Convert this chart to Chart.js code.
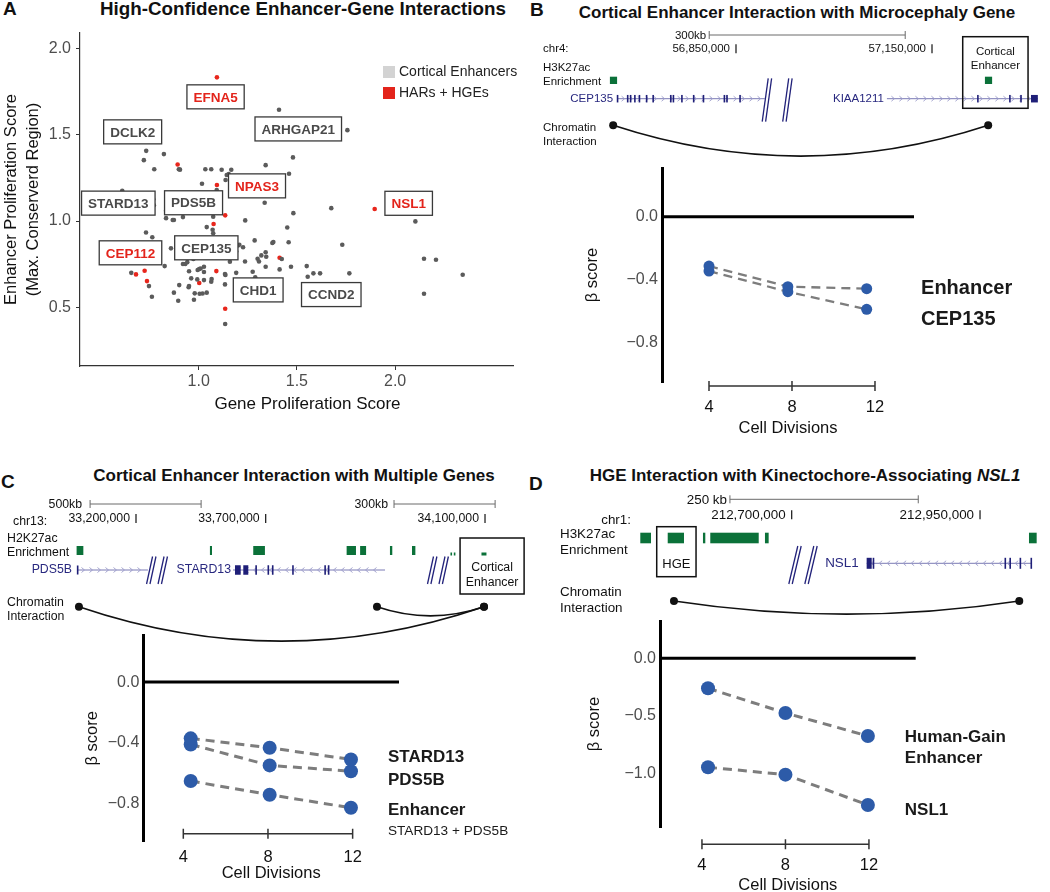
<!DOCTYPE html>
<html>
<head>
<meta charset="utf-8">
<script src="https://cdn.jsdelivr.net/npm/chart.js@4.4.1/dist/chart.umd.min.js"></script>
<style>
  html, body { margin: 0; padding: 0; background: #fff; overflow: hidden; }
  body { width: 1050px; height: 892px; position: relative; font-family: "Liberation Sans", Arial, sans-serif; color: #111; }
  canvas { position: absolute; }
  .letter { position: absolute; font-weight: bold; font-size: 19px; line-height: 19px; }
  .title { position: absolute; font-weight: bold; font-size: 17px; line-height: 17px; transform: translateX(-50%); white-space: nowrap; }
</style>
</head>
<body>
<div class="letter" style="left:3px;top:-1px">A</div>
<div class="title" style="left:303px;top:0px;font-size:18.8px;line-height:18.8px">High-Confidence Enhancer-Gene Interactions</div>
<div class="letter" style="left:530px;top:0px">B</div>
<div class="title" style="left:797px;top:4px">Cortical Enhancer Interaction with Microcephaly Gene</div>
<div class="letter" style="left:1px;top:472px">C</div>
<div class="title" style="left:294px;top:467px">Cortical Enhancer Interaction with Multiple Genes</div>
<div class="letter" style="left:529px;top:474px">D</div>
<div class="title" style="left:805px;top:467px">HGE Interaction with Kinectochore-Associating <i>NSL1</i></div>

<canvas id="chartA" width="520" height="420" style="left:0;top:0"></canvas>
<canvas id="trackB" width="530" height="135" style="left:520px;top:25px"></canvas>
<canvas id="chartB" width="530" height="280" style="left:520px;top:160px"></canvas>
<canvas id="trackC" width="530" height="155" style="left:0;top:490px"></canvas>
<canvas id="chartC" width="520" height="267" style="left:0;top:625px"></canvas>
<canvas id="trackD" width="530" height="135" style="left:520px;top:485px"></canvas>
<canvas id="chartD" width="530" height="290" style="left:520px;top:612px"></canvas>

<script>
// ---------- Panel A: enhancer / gene proliferation scores ----------
const corticalGeneScore = [1.409, 1.757, 0.733, 0.823, 0.721, 0.774, 0.899, 0.905, 1.034, 1.064, 1.117, 1.166,
  1.341, 1.480, 1.460, 1.143, 1.153, 1.137, 1.017, 1.092, 0.611, 0.769, 0.772, 1.336, 1.675, 1.482, 0.834,
  0.834, 0.868, 0.874, 0.920, 1.074, 1.103, 1.237, 2.103, 1.041, 1.071, 1.074, 1.451, 0.732, 0.764, 1.458,
  1.285, 1.375, 1.380, 1.731, 0.859, 1.200, 1.226, 1.207, 1.191, 1.341, 1.319, 1.300, 1.344, 1.423, 2.147,
  2.208, 0.827, 0.920, 0.932, 0.942, 0.973, 1.025, 0.951, 1.003, 1.010, 1.027, 0.995, 1.027, 1.159, 1.236,
  1.307, 1.341, 1.412, 1.470, 1.550, 0.657, 1.134, 1.136, 1.191, 1.275, 1.288, 1.555, 1.584, 1.618, 1.767,
  2.344, 0.962, 0.993, 1.027, 1.064, 1.066, 0.747, 0.901, 0.949, 0.951, 1.134, 0.874, 0.980, 1.005, 1.020,
  1.041, 0.762, 0.976, 0.896, 2.147, 1.135, 1.186];
const corticalEnhancerScore = [1.645, 1.527, 1.407, 1.388, 1.353, 1.300, 1.300, 1.298, 1.300, 1.300, 1.297, 1.297,
  1.324, 1.369, 1.274, 1.267, 1.272, 1.238, 1.216, 1.180, 1.176, 1.127, 1.091, 1.106, 1.075, 1.046, 1.060,
  1.017, 1.006, 1.006, 1.023, 1.025, 1.054, 1.004, 0.998, 0.965, 0.950, 0.929, 0.963, 0.934, 0.906, 0.877,
  0.888, 0.873, 0.878, 0.863, 0.842, 0.859, 0.848, 0.863, 0.824, 0.819, 0.801, 0.782, 0.793, 0.780, 0.782,
  0.776, 0.739, 0.751, 0.751, 0.762, 0.780, 0.813, 0.709, 0.722, 0.725, 0.735, 0.716, 0.705, 0.764, 0.766,
  0.766, 0.735, 0.720, 0.735, 0.739, 0.700, 0.693, 0.688, 0.700, 0.706, 0.674, 0.677, 0.697, 0.697, 0.697,
  0.689, 0.668, 0.662, 0.658, 0.648, 0.664, 0.623, 0.629, 0.616, 0.623, 0.633, 0.585, 0.581, 0.579, 0.580,
  0.585, 0.561, 0.544, 0.538, 0.579, 0.403, 0.813];
const harGeneScore = [0.893, 1.093, 1.093, 1.135, 1.076, 1.896, 1.412, 1.090, 1.003, 1.135, 0.681, 0.725, 0.737];
const harEnhancerScore = [1.328, 1.833, 1.209, 1.033, 0.983, 1.070, 0.787, 0.710, 0.641, 0.492, 0.691, 0.712, 0.652];
const geneLabels = ['EFNA5', 'DCLK2', 'ARHGAP21', 'NPAS3', 'STARD13', 'PDS5B', 'NSL1', 'CEP112', 'CEP135', 'CHD1', 'CCND2'];
const geneLabelX = [1.086, 0.664, 1.507, 1.297, 0.591, 0.974, 2.069, 0.653, 1.039, 1.303, 1.675];
const geneLabelY = [1.720, 1.517, 1.534, 1.204, 1.104, 1.106, 1.103, 0.816, 0.845, 0.601, 0.574];
const geneLabelHar = [true, false, false, true, false, false, true, true, false, false, false];
const xTicksA = [1.0, 1.5, 2.0];
const yTicksA = [0.5, 1.0, 1.5, 2.0];

// ---------- Panel B: CEP135 locus (kb) ----------
const scaleBarB = [56809, 57109];
const coordTicksB = [56850, 57150];
const peaksB = [[56657, 56668], [57231, 57242]];
const cep135Span = [56668, 56894];
const cep135Exons = [[56667.5, 56669], [56683, 56684.5], [56687.5, 56689], [56694, 56695.5], [56701, 56702.5],
  [56712, 56713.5], [56722, 56723.5], [56749, 56750.5], [56753, 56754.5], [56766, 56767.5], [56784, 56785.5],
  [56799, 56800.5], [56831, 56832.5], [56835, 56836.5], [56855, 56856.5]];
const kiaa1211Span = [57081, 57312];
const kiaa1211Exons = [[57219, 57220.5], [57268, 57269.5], [57285, 57286.5], [57301.5, 57312]];
const breaksB = [56913];
const enhancerBoxB = [57197, 57297];
const loopsB = [[56662, 57236]];

// ---------- Panel C: PDS5B / STARD13 locus (kb) ----------
const scaleBarC = [33023, 33451];
const scaleBarCRight = [33830, 34130];
const coordTicksC = [33200, 33700];
const coordTicksCRight = [34100];
const peaksC = [[32971, 32997], [33485, 33493], [33652, 33697], [34012, 34048], [34064, 34087], [34179, 34188], [34264, 34277]];
const peaksCRight = [[33997.5, 34001.5], [34007.4, 34011.3], [34089.5, 34104.3]];
const pds5bSpan = [32972.5, 33246];
const pds5bExons = [[32972, 32974]];
const stard13Span = [33574, 34160];
const stard13Exons = [[33581.6, 33603.6], [33613.6, 33632.9], [33660, 33662], [33707, 33709], [33724, 33727],
  [33802, 33804], [33926, 33928], [33939.5, 33941.5]];
const breaksC = [33281, 34364];
const enhancerBoxC = [34026, 34216];
const loopStartC = [32980, 34129];
const loopEndC = [34097, 34097];

// ---------- Panel D: NSL1 locus (kb) ----------
const scaleBarD = [212618, 212868];
const coordTicksD = [212700, 212950];
const peaksD = [[212499, 212513.2], [212535.4, 212557], [212582.2, 212585.3], [212591.9, 212656.2], [212664.5, 212669.4], [213015, 213025.2]];
const nsl1Span = [212799.5, 213019];
const nsl1Exons = [[212799.5, 212806.2], [212807.5, 212809.5], [212982.5, 212984.5], [212989, 212991], [213002.5, 213004.5], [213017, 213019]];
const breaksD = [212715];
const hgeBoxD = [212520.8, 212573];
const loopsD = [[212543.7, 213002.1]];

// ---------- Panels B-D: beta scores over cell divisions ----------
const cellDivisionTicks = [4, 8, 12];
const divisionsB = [4, 7.8, 11.6];
const enhancerBetaB = [-0.313, -0.444, -0.457];
const cep135BetaB = [-0.345, -0.476, -0.588];
const seriesNamesB = ['Enhancer', 'CEP135'];
const seriesLabelYB = [-0.455, -0.651];
const betaTicksB = [0, -0.4, -0.8];

const divisionsC = [4.35, 8.08, 11.92];
const stard13BetaC = [-0.370, -0.432, -0.509];
const pds5bBetaC = [-0.410, -0.548, -0.586];
const enhancerBetaC = [-0.651, -0.741, -0.827];
const seriesNamesC = ['STARD13', 'PDS5B', 'Enhancer', 'STARD13 + PDS5B'];
const seriesLabelYC = [-0.498, -0.645, -0.842, -0.978];
const betaTicksC = [0, -0.4, -0.8];

const divisionsD = [4.29, 8.0, 11.95];
const hgeBetaD = [-0.261, -0.476, -0.676];
const nsl1BetaD = [-0.948, -1.012, -1.276];
const seriesNamesD = ['Human-Gain', 'Enhancer', 'NSL1'];
const seriesLabelYD = [-0.690, -0.868, -1.319];
const betaTicksD = [0, -0.5, -1.0];

const FONT = '"Liberation Sans", Arial, Helvetica, sans-serif';
Chart.defaults.font.family = FONT;
Chart.defaults.color = '#111';

// ---------- drawing helpers ----------
function text(ctx, str, x, y, size, o = {}) {
  ctx.font = `${o.style || 'normal'} ${o.weight || 'normal'} ${size}px ${FONT}`;
  ctx.fillStyle = o.color || '#111';
  ctx.textAlign = o.align || 'left';
  ctx.textBaseline = 'middle';
  ctx.fillText(str, x, y);
}

function fmtCoord(kb) {
  return String(Math.round(kb * 1000)).replace(/\B(?=(\d{3})+(?!\d))/g, ',');
}

function scaleBar(ctx, x0, x1, y, label, size, gap) {
  ctx.strokeStyle = '#6b6b6b';
  ctx.lineWidth = 1;
  ctx.beginPath();
  ctx.moveTo(x0, y); ctx.lineTo(x1, y);
  ctx.moveTo(x0, y - 4); ctx.lineTo(x0, y + 4);
  ctx.moveTo(x1, y - 4); ctx.lineTo(x1, y + 4);
  ctx.stroke();
  text(ctx, label, x0 - gap, y + 1, size, {align: 'right'});
}

function coordTick(ctx, x, y, kb, size) {
  text(ctx, fmtCoord(kb), x - 6, y, size, {align: 'right'});
  ctx.strokeStyle = '#111';
  ctx.lineWidth = 1.2;
  ctx.beginPath();
  ctx.moveTo(x, y - 5); ctx.lineTo(x, y + 4);
  ctx.stroke();
}

function drawPeaks(ctx, scale, peaks, top, h) {
  ctx.fillStyle = '#0b7139';
  peaks.forEach(([s, e]) => {
    const a = scale.getPixelForValue(s), b = scale.getPixelForValue(e);
    ctx.fillRect(a, top, Math.max(b - a, 1.6), h);
  });
}

function drawGene(ctx, scale, span, exons, strand, name, yc, exonH, size, gap) {
  const x0 = scale.getPixelForValue(span[0]), x1 = scale.getPixelForValue(span[1]);
  ctx.strokeStyle = '#7b7bb5';
  ctx.lineWidth = 1;
  ctx.beginPath(); ctx.moveTo(x0, yc); ctx.lineTo(x1, yc); ctx.stroke();
  ctx.strokeStyle = '#9d9dcb';
  ctx.lineWidth = 0.9;
  for (let px = x0 + 6; px < x1 - 4; px += 8) {
    ctx.beginPath();
    ctx.moveTo(px - 1.5 * strand, yc - 2.5);
    ctx.lineTo(px + 1.5 * strand, yc);
    ctx.lineTo(px - 1.5 * strand, yc + 2.5);
    ctx.stroke();
  }
  ctx.fillStyle = '#1f1f78';
  exons.forEach(([s, e]) => {
    const a = scale.getPixelForValue(s), b = scale.getPixelForValue(e);
    ctx.fillRect(a, yc - exonH / 2, Math.max(b - a, 1.6), exonH);
  });
  text(ctx, name, x0 - gap, yc, size, {align: 'right', color: '#28287f'});
}

function drawBreak(ctx, xc, y0, y1, gap, slant) {
  ctx.strokeStyle = '#22227a';
  ctx.lineWidth = 1.3;
  [-gap / 2, gap / 2].forEach(dx => {
    [-1.7, 1.7].forEach(off => {
      ctx.beginPath();
      ctx.moveTo(xc + dx + off + slant / 2, y0);
      ctx.lineTo(xc + dx + off - slant / 2, y1);
      ctx.stroke();
    });
  });
}

function drawBox(ctx, x0, x1, y0, y1) {
  ctx.strokeStyle = '#111';
  ctx.lineWidth = 1.5;
  ctx.strokeRect(x0, y0, x1 - x0, y1 - y0);
}

function drawLoop(ctx, xa, xb, y, sagRatio) {
  const sag = Math.abs(xb - xa) * sagRatio;
  ctx.strokeStyle = '#111';
  ctx.lineWidth = 1.7;
  ctx.beginPath();
  ctx.moveTo(xa, y);
  ctx.quadraticCurveTo((xa + xb) / 2, y + 2 * sag, xb, y);
  ctx.stroke();
  ctx.fillStyle = '#111';
  [xa, xb].forEach(px => {
    ctx.beginPath(); ctx.arc(px, y, 4, 0, Math.PI * 2); ctx.fill();
  });
}

// ---------- Panel A ----------
const labelBoxes = {
  id: 'labelBoxes',
  afterDatasetsDraw(chart) {
    const {ctx, scales: {x, y}} = chart;
    ctx.save();
    ctx.font = `bold 13.5px ${FONT}`;
    geneLabels.forEach((name, i) => {
      const cx = x.getPixelForValue(geneLabelX[i]);
      const cy = y.getPixelForValue(geneLabelY[i]);
      const w = ctx.measureText(name).width + 13;
      const h = 24;
      ctx.fillStyle = '#fff';
      ctx.fillRect(cx - w / 2, cy - h / 2, w, h);
      ctx.strokeStyle = '#3a3a3a';
      ctx.lineWidth = 1.3;
      ctx.strokeRect(cx - w / 2, cy - h / 2, w, h);
      text(ctx, name, cx, cy + 1, 13.5, {align: 'center', weight: 'bold', color: geneLabelHar[i] ? '#e3241b' : '#4a4a4a'});
    });
    ctx.restore();
  }
};

// legend squares + x axis title (title sits a little right of the panel centre in the original)
const squareLegend = {
  id: 'squareLegend',
  afterDraw(chart) {
    const {ctx, chartArea} = chart;
    ctx.save();
    chart.data.datasets.forEach((ds, i) => {
      const x0 = chartArea.right - 130, y0 = chartArea.top + 33 + i * 21;
      ctx.fillStyle = ds.legendColor;
      ctx.fillRect(x0, y0, 12, 12);
      text(ctx, ds.label, x0 + 16, y0 + 6.5, 14, {color: '#222'});
    });
    text(ctx, 'Gene Proliferation Score', (chartArea.left + chartArea.right) / 2 + 11, chartArea.bottom + 38, 17,
         {align: 'center', color: '#111'});
    ctx.restore();
  }
};

new Chart(document.getElementById('chartA'), {
  type: 'scatter',
  data: {
    datasets: [
      {label: 'Cortical Enhancers', legendColor: '#d3d3d3',
       data: corticalGeneScore.map((v, i) => ({x: v, y: corticalEnhancerScore[i]})),
       pointRadius: 2.3, backgroundColor: '#5b5b5b', borderWidth: 0},
      {label: 'HARs + HGEs', legendColor: '#e3241b',
       data: harGeneScore.map((v, i) => ({x: v, y: harEnhancerScore[i]})),
       pointRadius: 2.3, backgroundColor: '#e8261c', borderWidth: 0}
    ]
  },
  options: {
    responsive: false, animation: false, devicePixelRatio: 1, events: [],
    layout: {padding: {top: 33, right: 7, left: 0, bottom: 0}},
    plugins: {legend: {display: false}, tooltip: {enabled: false}},
    scales: {
      x: {
        type: 'linear', min: 0.396, max: 2.60,
        afterBuildTicks: s => { s.ticks = xTicksA.map(v => ({value: v})); },
        afterFit: s => { s.height = 54; s.paddingLeft = 0; s.paddingRight = 0; },
        grid: {drawOnChartArea: false, drawTicks: true, tickLength: 4, color: '#333'},
        border: {color: '#333', width: 1.2},
        ticks: {color: '#4d4d4d', font: {size: 16}, padding: 2, callback: v => v.toFixed(1)},
        title: {display: false}
      },
      y: {
        type: 'linear', min: 0.16, max: 2.09,
        afterBuildTicks: s => { s.ticks = yTicksA.map(v => ({value: v})); },
        afterFit: s => { s.width = 80; s.paddingTop = 0; s.paddingBottom = 0; },
        grid: {drawOnChartArea: false, drawTicks: true, tickLength: 4, color: '#333'},
        border: {color: '#333', width: 1.2},
        ticks: {color: '#4d4d4d', font: {size: 16}, padding: 5, callback: v => v.toFixed(1)},
        title: {display: true, text: ['Enhancer Proliferation Score', '(Max. Conserverd Region)'], color: '#111',
                font: {size: 16.5, lineHeight: 1.35}, padding: {top: 0, bottom: 0}}
      }
    }
  },
  plugins: [labelBoxes, squareLegend]
});

// ---------- genome tracks ----------
function trackOptions(xScales) {
  return {
    responsive: false, animation: false, devicePixelRatio: 1, events: [],
    layout: {padding: 0},
    plugins: {legend: {display: false}, tooltip: {enabled: false}},
    scales: Object.assign({y: {display: false, min: 0, max: 1}}, xScales)
  };
}

const trackBPlugin = {
  id: 'trackB',
  afterDraw(chart) {
    const ctx = chart.ctx, x = chart.scales.x, px = v => x.getPixelForValue(v), fs = 11.5;
    ctx.save();
    scaleBar(ctx, px(scaleBarB[0]), px(scaleBarB[1]), 10, '300kb', fs, 3);
    coordTicksB.forEach(v => coordTick(ctx, px(v), 24.3, v, fs));
    text(ctx, 'chr4:', 23, 24.3, fs);
    text(ctx, 'H3K27ac', 23, 43.3, fs);
    text(ctx, 'Enrichment', 23, 56.7, fs);
    drawPeaks(ctx, x, peaksB, 51.7, 7.3);
    drawGene(ctx, x, cep135Span, cep135Exons, 1, 'CEP135', 73.7, 7.5, fs, 4);
    drawGene(ctx, x, kiaa1211Span, kiaa1211Exons, 1, 'KIAA1211', 73.7, 7.5, fs, 3);
    breaksB.forEach(v => drawBreak(ctx, px(v), 53.3, 96.7, 20.5, 6));
    drawBox(ctx, px(enhancerBoxB[0]), px(enhancerBoxB[1]), 11.7, 83.3);
    const bc = (px(enhancerBoxB[0]) + px(enhancerBoxB[1])) / 2;
    text(ctx, 'Cortical', bc, 27.3, fs, {align: 'center'});
    text(ctx, 'Enhancer', bc, 40.7, fs, {align: 'center'});
    text(ctx, 'Chromatin', 23, 102.7, fs);
    text(ctx, 'Interaction', 23, 116.7, fs);
    loopsB.forEach(([a, b]) => drawLoop(ctx, px(a), px(b), 100.3, 0.082));
    ctx.restore();
  }
};

new Chart(document.getElementById('trackB'), {
  type: 'scatter', data: {datasets: []},
  options: trackOptions({x: {type: 'linear', display: false, min: 56519.4, max: 57330.6}}),
  plugins: [trackBPlugin]
});

const trackCPlugin = {
  id: 'trackC',
  afterDraw(chart) {
    const ctx = chart.ctx, x = chart.scales.x, xr = chart.scales.xr, fs = 12.3;
    const pl = v => x.getPixelForValue(v), pr = v => xr.getPixelForValue(v);
    ctx.save();
    scaleBar(ctx, pl(scaleBarC[0]), pl(scaleBarC[1]), 14, '500kb', fs, 8);
    scaleBar(ctx, pr(scaleBarCRight[0]), pr(scaleBarCRight[1]), 14, '300kb', fs, 6);
    coordTicksC.forEach(v => coordTick(ctx, pl(v), 29, v, fs));
    coordTicksCRight.forEach(v => coordTick(ctx, pr(v), 29, v, fs));
    text(ctx, 'chr13:', 13, 32, fs);
    text(ctx, 'H2K27ac', 7, 48.7, fs);
    text(ctx, 'Enrichment', 7, 62.7, fs);
    drawPeaks(ctx, x, peaksC, 56, 9);
    drawPeaks(ctx, xr, peaksCRight, 62.5, 3);
    drawGene(ctx, x, pds5bSpan, pds5bExons, 1, 'PDS5B', 80, 9, fs, 5);
    drawGene(ctx, x, stard13Span, stard13Exons, -1, 'STARD13', 80, 9.5, fs, 2);
    breaksC.forEach(v => drawBreak(ctx, pl(v), 66.5, 94, 11.5, 6));
    drawBox(ctx, pr(enhancerBoxC[0]), pr(enhancerBoxC[1]), 48, 104);
    const bc = (pr(enhancerBoxC[0]) + pr(enhancerBoxC[1])) / 2;
    text(ctx, 'Cortical', bc, 78, fs, {align: 'center'});
    text(ctx, 'Enhancer', bc, 93, fs, {align: 'center'});
    text(ctx, 'Chromatin', 7, 112.7, fs);
    text(ctx, 'Interaction', 7, 126.7, fs);
    loopStartC.forEach((a, i) => drawLoop(ctx, pl(a), pr(loopEndC[i]), 116.7, 0.085));
    ctx.restore();
  }
};

new Chart(document.getElementById('trackC'), {
  type: 'scatter', data: {datasets: []},
  options: trackOptions({
    x: {type: 'linear', display: false, position: 'bottom', min: 32675.7, max: 34718.9},
    xr: {type: 'linear', display: false, position: 'bottom', min: 32660.8, max: 34233.5}
  }),
  plugins: [trackCPlugin]
});

const trackDPlugin = {
  id: 'trackD',
  afterDraw(chart) {
    const ctx = chart.ctx, x = chart.scales.x, px = v => x.getPixelForValue(v), fs = 13.4;
    ctx.save();
    scaleBar(ctx, px(scaleBarD[0]), px(scaleBarD[1]), 14.3, '250 kb', fs, 3);
    coordTicksD.forEach(v => coordTick(ctx, px(v), 30.3, v, fs));
    text(ctx, 'chr1:', 111, 35, fs, {align: 'right'});
    text(ctx, 'H3K27ac', 40, 49.3, fs);
    text(ctx, 'Enrichment', 40, 65, fs);
    drawPeaks(ctx, x, peaksD, 47.7, 10.6);
    drawBox(ctx, px(hgeBoxD[0]), px(hgeBoxD[1]), 41.7, 91.7);
    text(ctx, 'HGE', (px(hgeBoxD[0]) + px(hgeBoxD[1])) / 2, 79, 13, {align: 'center'});
    breaksD.forEach(v => drawBreak(ctx, px(v), 61, 99, 16, 9));
    drawGene(ctx, x, nsl1Span, nsl1Exons, -1, 'NSL1', 78.3, 11, fs, 8);
    text(ctx, 'Chromatin', 40, 107, fs);
    text(ctx, 'Interaction', 40, 123.3, fs);
    loopsD.forEach(([a, b]) => drawLoop(ctx, px(a), px(b), 116, 0.038));
    ctx.restore();
  }
};

new Chart(document.getElementById('trackD'), {
  type: 'scatter', data: {datasets: []},
  options: trackOptions({x: {type: 'linear', display: false, min: 212339.3, max: 213042.9}}),
  plugins: [trackDPlugin]
});

// ---------- beta score charts ----------
const betaDecor = {
  id: 'betaDecor',
  beforeDatasetsDraw(chart) {
    const {ctx, chartArea, scales: {y}} = chart;
    ctx.save();
    ctx.strokeStyle = '#000';
    ctx.lineWidth = 3;
    ctx.beginPath();
    ctx.moveTo(chartArea.left, y.getPixelForValue(0));
    ctx.lineTo(chartArea.right, y.getPixelForValue(0));
    ctx.stroke();
    ctx.restore();
  },
  afterDraw(chart, args, opts) {
    const {ctx, chartArea, scales: {x, y}} = chart;
    ctx.save();
    const yb = chartArea.bottom + opts.bracketOffset;
    ctx.strokeStyle = '#333';
    ctx.lineWidth = 1.5;
    ctx.beginPath();
    ctx.moveTo(x.getPixelForValue(cellDivisionTicks[0]), yb);
    ctx.lineTo(x.getPixelForValue(cellDivisionTicks[cellDivisionTicks.length - 1]), yb);
    cellDivisionTicks.forEach(v => {
      ctx.moveTo(x.getPixelForValue(v), yb - 5);
      ctx.lineTo(x.getPixelForValue(v), yb + 5);
    });
    ctx.stroke();
    opts.names.forEach((name, i) => {
      const f = opts.fonts[i];
      text(ctx, name, x.getPixelForValue(opts.labelX), y.getPixelForValue(opts.labelY[i]), f.size,
           {weight: f.weight, color: '#1a1a1a'});
    });
    ctx.restore();
  }
};

function betaLabel(v) {
  return v === 0 ? '0.0' : '\u2212' + Math.abs(v).toFixed(1);
}

function makeBetaChart(id, c) {
  return new Chart(document.getElementById(id), {
    type: 'line',
    data: {
      datasets: c.series.map(s => ({
        data: c.divisions.map((d, i) => ({x: d, y: s[i]})),
        borderColor: '#7d7d7d', borderWidth: c.lineWidth, borderDash: [9, 6],
        pointRadius: c.pointRadius, pointBackgroundColor: '#2d5ba8', pointBorderWidth: 0,
        fill: false, tension: 0
      }))
    },
    options: {
      responsive: false, animation: false, devicePixelRatio: 1, events: [],
      layout: {padding: {top: c.padTop, right: c.padRight, left: 0, bottom: 0}},
      plugins: {
        legend: {display: false}, tooltip: {enabled: false},
        betaDecor: {bracketOffset: c.bracketOffset, names: c.names, labelY: c.labelY, labelX: c.labelX, fonts: c.fonts}
      },
      scales: {
        x: {
          type: 'linear', min: c.xMin, max: c.xMax,
          afterBuildTicks: s => { s.ticks = cellDivisionTicks.map(v => ({value: v})); },
          afterFit: s => { s.height = c.xHeight; s.paddingLeft = 0; s.paddingRight = 0; },
          grid: {display: false, drawTicks: false}, border: {display: false},
          ticks: {color: '#111', font: {size: 16.5}, padding: c.xTickPad},
          title: {display: true, text: 'Cell Divisions', color: '#111', font: {size: 16.5}, padding: {top: 0, bottom: c.xTitlePad}}
        },
        y: {
          type: 'linear', min: c.yMin, max: c.yMax,
          afterBuildTicks: s => { s.ticks = c.yTicks.map(v => ({value: v})); },
          afterFit: s => { s.width = c.yWidth; s.paddingTop = 0; s.paddingBottom = 0; },
          grid: {display: false, drawTicks: false}, border: {display: true, color: '#000', width: 3},
          ticks: {color: '#4d4d4d', font: {size: 16}, padding: 4, callback: betaLabel},
          title: {display: true, text: '\u03b2 score', color: '#111', font: {size: 16.5}, padding: {top: c.yTitlePad, bottom: 0}}
        }
      }
    },
    plugins: [betaDecor]
  });
}

const boldBig = {size: 20, weight: 'bold'};
const bold17 = {size: 17, weight: 'bold'};

makeBetaChart('chartB', {
  divisions: divisionsB, series: [enhancerBetaB, cep135BetaB], yTicks: betaTicksB,
  names: seriesNamesB, labelY: seriesLabelYB, labelX: 14.22, fonts: [boldBig, boldBig],
  xMin: 1.735, xMax: 13.88, yMin: -1.05, yMax: 0.31,
  padTop: 8, padRight: 136, yWidth: 142, xHeight: 58,
  xTickPad: 16, xTitlePad: 2, yTitlePad: 63, bracketOffset: 4,
  pointRadius: 5.5, lineWidth: 2.3
});

makeBetaChart('chartC', {
  divisions: divisionsC, series: [stard13BetaC, pds5bBetaC, enhancerBetaC], yTicks: betaTicksC,
  names: seriesNamesC, labelY: seriesLabelYC, labelX: 13.67,
  fonts: [bold17, bold17, bold17, {size: 13.6, weight: 'normal'}],
  xMin: 2.11, xMax: 14.19, yMin: -1.05, yMax: 0.31,
  padTop: 10, padRight: 121, yWidth: 143.3, xHeight: 50.3,
  xTickPad: 6, xTitlePad: 9, yTitlePad: 82.6, bracketOffset: -8,
  pointRadius: 7, lineWidth: 3
});

makeBetaChart('chartD', {
  divisions: divisionsD, series: [hgeBetaD, nsl1BetaD], yTicks: betaTicksD,
  names: seriesNamesD, labelY: seriesLabelYD, labelX: 13.72, fonts: [bold17, bold17, bold17],
  xMin: 1.99, xMax: 14.24, yMin: -1.47, yMax: 0.324,
  padTop: 9, padRight: 134.3, yWidth: 140, xHeight: 74.7,
  xTickPad: 28.7, xTitlePad: 7, yTitlePad: 65, bracketOffset: 17,
  pointRadius: 7, lineWidth: 3
});
</script>
</body>
</html>
